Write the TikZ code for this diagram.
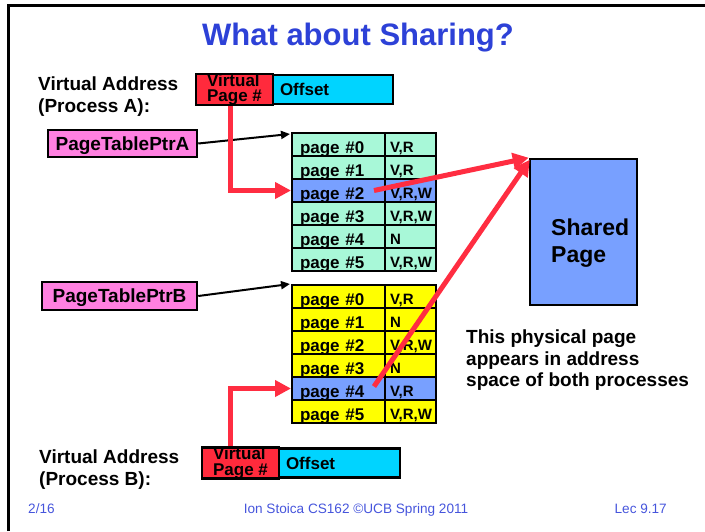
\documentclass[tikz,border=0pt]{standalone}
\usepackage{fontspec}
\setmainfont{Liberation Sans}
\usetikzlibrary{arrows.meta,calc}

\definecolor{slideblue}{RGB}{45,65,215}
\definecolor{footblue}{RGB}{70,85,220}
\definecolor{vpnred}{RGB}{255,42,60}
\definecolor{offcyan}{RGB}{0,212,255}
\definecolor{ptrpink}{RGB}{255,128,224}
\definecolor{mint}{RGB}{168,248,216}
\definecolor{hiblue}{RGB}{120,160,255}
\definecolor{pteyellow}{RGB}{255,255,0}
\definecolor{arrowred}{RGB}{255,45,65}

\begin{document}
\begin{tikzpicture}[x=1pt,y=-1pt,
  box/.style={draw, line width=2.5pt, inner sep=0pt},
  lbl/.style={anchor=north west, inner sep=0pt, align=left,
    font=\fontsize{19}{22}\selectfont\bfseries},
  vpnbox/.style={box, fill=vpnred, minimum width=77pt, minimum height=29pt,
    align=left, font=\fontsize{17}{15.5}\selectfont\bfseries},
  offbox/.style={box, fill=offcyan, minimum height=29pt, inner xsep=7pt,
    text height=12.4pt, text depth=0pt, align=left,
    font=\fontsize{17}{17}\selectfont\bfseries},
  ptrbox/.style={box, fill=ptrpink, minimum height=27pt,
    text height=13.9pt, text depth=0pt,
    font=\fontsize{19}{19}\selectfont\bfseries},
  cellpage/.style={draw, line width=2pt, minimum width=93pt, minimum height=23pt,
    inner xsep=8pt, inner ysep=0pt, text width=77pt, align=left,
    text height=18pt, text depth=1pt,
    font=\fontsize{17}{17}\selectfont\bfseries},
  cellflag/.style={draw, line width=2pt, minimum width=51pt, minimum height=23pt,
    inner xsep=5pt, inner ysep=0pt, text width=41pt, align=left,
    text height=16pt, text depth=1pt,
    font=\fontsize{15}{15}\selectfont\bfseries},
  redarrow/.style={draw=arrowred, line width=5pt,
    -{Triangle[length=16pt,width=16pt]}},
  ptrarrow/.style={draw=black, line width=2pt,
    -{Triangle[length=9pt,width=8pt]}},
  foot/.style={inner sep=0pt, text=footblue, font=\fontsize{13.6}{14}\selectfont}
]
\useasboundingbox (0,0) rectangle (705,531);

% slide frame
\draw[line width=3pt] (8.3,531) -- (8.3,5.3) -- (705,5.3);

% title
\node[anchor=base, inner sep=0pt, text=slideblue,
  font=\fontsize{31}{36}\selectfont\bfseries] (title) at (358,45) {What about Sharing?};

% virtual address of process A
\node[lbl] (labelA) at (38,77) {Virtual Address\\(Process A):};
\node[vpnbox] (vpnA) at (234.5,89.5) {Virtual\\Page \#};
\node[offbox, minimum width=120pt, text width=106pt] (offA) at (333,89.5) {Offset};

% page table pointers
\node[ptrbox, minimum width=149pt] (ptrA) at (122.5,143.5) {PageTablePtrA};
\node[ptrbox, minimum width=155pt, minimum height=28pt] (ptrB) at (119.5,296) {PageTablePtrB};

% page table of process A
\node[cellpage, fill=mint]   (A-p0) at (338.5,144.5) {page \#0};
\node[cellflag, fill=mint]   (A-f0) at (410.5,144.5) {V,R};
\node[cellpage, fill=mint]   (A-p1) at (338.5,167.5) {page \#1};
\node[cellflag, fill=mint]   (A-f1) at (410.5,167.5) {V,R};
\node[cellpage, fill=hiblue] (A-p2) at (338.5,190.5) {page \#2};
\node[cellflag, fill=hiblue] (A-f2) at (410.5,190.5) {V,R,W};
\node[cellpage, fill=mint]   (A-p3) at (338.5,213.5) {page \#3};
\node[cellflag, fill=mint]   (A-f3) at (410.5,213.5) {V,R,W};
\node[cellpage, fill=mint]   (A-p4) at (338.5,236.5) {page \#4};
\node[cellflag, fill=mint]   (A-f4) at (410.5,236.5) {N};
\node[cellpage, fill=mint]   (A-p5) at (338.5,259.5) {page \#5};
\node[cellflag, fill=mint]   (A-f5) at (410.5,259.5) {V,R,W};

% page table of process B
\node[cellpage, fill=pteyellow] (B-p0) at (338.5,296.5) {page \#0};
\node[cellflag, fill=pteyellow] (B-f0) at (410.5,296.5) {V,R};
\node[cellpage, fill=pteyellow] (B-p1) at (338.5,319.5) {page \#1};
\node[cellflag, fill=pteyellow] (B-f1) at (410.5,319.5) {N};
\node[cellpage, fill=pteyellow] (B-p2) at (338.5,342.5) {page \#2};
\node[cellflag, fill=pteyellow] (B-f2) at (410.5,342.5) {V,R,W};
\node[cellpage, fill=pteyellow] (B-p3) at (338.5,365.5) {page \#3};
\node[cellflag, fill=pteyellow] (B-f3) at (410.5,365.5) {N};
\node[cellpage, fill=hiblue]    (B-p4) at (338.5,388.5) {page \#4};
\node[cellflag, fill=hiblue]    (B-f4) at (410.5,388.5) {V,R};
\node[cellpage, fill=pteyellow] (B-p5) at (338.5,411.5) {page \#5};
\node[cellflag, fill=pteyellow] (B-f5) at (410.5,411.5) {V,R,W};

% shared physical page
\node[box, fill=hiblue, minimum width=107pt, minimum height=146pt] (shared) at (583.5,232) {};
\node[anchor=north west, inner sep=0pt, align=left,
  font=\fontsize{23}{27}\selectfont\bfseries] (sharedtext) at (551,218.5) {Shared\\Page};

% explanation
\node[anchor=north west, inner sep=0pt, align=left,
  font=\fontsize{19}{21.5}\selectfont\bfseries] (note) at (466,330)
  {This physical page\\appears in address\\space of both processes};

% virtual address of process B
\node[lbl] (labelB) at (39,450) {Virtual Address\\(Process B):};
\node[vpnbox] (vpnB) at (240.5,463) {Virtual\\Page \#};
\node[offbox, minimum width=121pt, text width=107pt] (offB) at (339.5,463) {Offset};

% pointer arrows
\draw[ptrarrow] (ptrA.east) -- ([shift={(-1,2)}]A-p0.north west);
\draw[ptrarrow] (ptrB.east) -- ([shift={(-1,0)}]B-p0.north west);

% translation arrows
\draw[redarrow] ([xshift=36pt]vpnA.south west) |- (A-p2.west);
\draw[redarrow] ([xshift=30pt]vpnB.north west) |- (B-p4.west);
\draw[redarrow] ([xshift=-12pt]A-p2.east) -- (shared.north west);
\draw[redarrow] ([xshift=-12pt,yshift=2pt]B-p4.east) -- ([shift={(1,2)}]shared.north west);

% footer
\node[foot, anchor=base west] (date) at (28,513) {2/16};
\node[foot, anchor=base] (credit) at (356,513) {Ion Stoica CS162 ©UCB Spring 2011};
\node[foot, anchor=base east] (lec) at (667,513) {Lec 9.17};
\end{tikzpicture}
\end{document}
